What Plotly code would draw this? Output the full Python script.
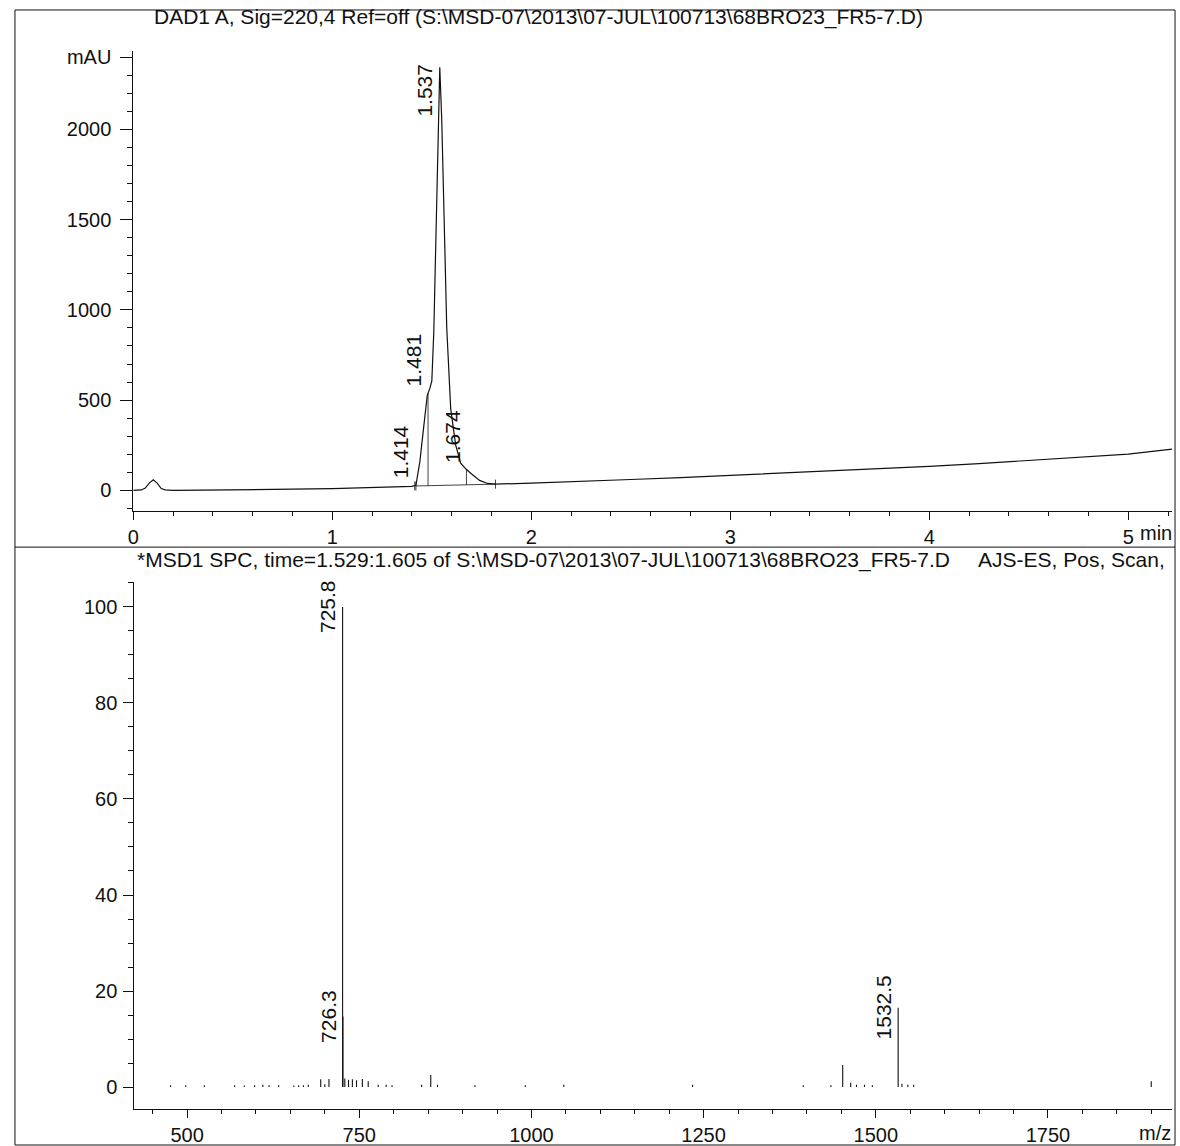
import numpy as np
import plotly.graph_objects as go

# ---------------- data: DAD chromatogram (min, mAU) ----------------
chrom_time = [0.00, 0.04, 0.06, 0.08, 0.10, 0.12, 0.14, 0.16, 0.20, 0.40, 0.60, 0.80,
              1.00, 1.20, 1.35, 1.40, 1.42, 1.44, 1.46, 1.477, 1.49, 1.50, 1.51, 1.52,
              1.53, 1.54, 1.55, 1.56, 1.565, 1.575, 1.595, 1.62, 1.645, 1.674, 1.70,
              1.74, 1.78, 1.82, 2.00, 2.25, 2.50, 2.75, 3.00, 3.25, 3.50, 3.75, 4.00,
              4.25, 4.50, 4.75, 5.00, 5.22]
chrom_mau = [0, 2, 12, 40, 58, 40, 10, 2, 0, 1, 3, 6,
             9, 14, 20, 22, 28, 160, 360, 525, 565, 605, 880, 1430,
             2000, 2345, 2050, 1600, 1420, 900, 450, 250, 150, 115, 90,
             55, 38, 34, 40, 48, 60, 70, 82, 93, 105, 118, 133,
             148, 165, 182, 200, 228]

chrom_peak_times = [1.414, 1.481, 1.537, 1.674]
chrom_peak_labels = ["1.414", "1.481", "1.537", "1.674"]
drop_line_times = [1.481, 1.674]
event_tick_times = [1.414, 1.42, 1.82]
integ_base_time = [1.42, 1.82]
integ_base_mau = [24, 34]

chrom_xticks = [0, 1, 2, 3, 4, 5]
chrom_yticks = [0, 500, 1000, 1500, 2000, 2400]
chrom_yticktext = ["0", "500", "1000", "1500", "2000", "mAU"]

# ---------------- data: MS spectrum (m/z, relative abundance) ----------------
ms_mz = [476, 498, 525, 569, 583, 598, 610, 619, 633, 655, 662, 669, 676,
         694, 700, 706, 725.8, 726.3, 729, 734.4, 740, 746, 754.5, 763,
         777.5, 789, 797.6, 840.6, 853.8, 863.6, 918, 991, 1047, 1234,
         1394.7, 1434.9, 1452, 1463.6, 1472, 1483.6, 1495, 1532.5,
         1538, 1546.6, 1555, 1900]
ms_int = [0.4, 0.4, 0.4, 0.4, 0.3, 0.4, 0.5, 0.4, 0.4, 0.3, 0.4, 0.4, 0.5,
          1.6, 0.6, 1.7, 100, 14.7, 1.8, 1.5, 1.6, 1.4, 1.7, 1.2,
          0.5, 0.5, 0.4, 0.5, 2.5, 0.5, 0.4, 0.4, 0.5, 0.5,
          0.4, 0.4, 4.6, 0.9, 0.5, 0.5, 0.4, 16.5,
          0.7, 0.5, 0.5, 1.2]
ms_labeled = [725.8, 726.3, 1532.5]
ms_xticks = [500, 750, 1000, 1250, 1500, 1750]
ms_yticks = [0, 20, 40, 60, 80, 100]

TOP_TITLE = r"DAD1 A, Sig=220,4 Ref=off (S:\MSD-07\2013\07-JUL\100713\68BRO23_FR5-7.D)"
BOT_TITLE = (r"*MSD1 SPC, time=1.529:1.605 of S:\MSD-07\2013\07-JUL\100713\68BRO23_FR5-7.D"
             + "\u00a0\u00a0\u00a0\u00a0 AJS-ES, Pos, Scan,")

# ---------------- figure geometry ----------------
W, H = 1180, 1146
FONT = "Liberation Sans, Arial, sans-serif"
INK = "#111111"


def px_x(p):
    return p / W


def px_y(p):
    return 1 - p / H


fig = go.Figure()

# chromatogram trace
fig.add_trace(go.Scatter(x=chrom_time, y=chrom_mau, mode="lines",
                         line=dict(color=INK, width=1.2), xaxis="x", yaxis="y",
                         hoverinfo="skip", showlegend=False))

# integration baseline
fig.add_trace(go.Scatter(x=integ_base_time, y=integ_base_mau, mode="lines",
                         line=dict(color=INK, width=0.8), xaxis="x", yaxis="y",
                         hoverinfo="skip", showlegend=False))

# drop lines from curve to integration baseline, and event ticks
dx, dy = [], []
for t in drop_line_times:
    dx += [t, t, None]
    dy += [float(np.interp(t, chrom_time, chrom_mau)),
           float(np.interp(t, integ_base_time, integ_base_mau)), None]
for t in event_tick_times:
    b = float(np.interp(t, integ_base_time, integ_base_mau))
    dx += [t, t, None]
    dy += [b - 25, b + 25, None]
fig.add_trace(go.Scatter(x=dx, y=dy, mode="lines", line=dict(color=INK, width=0.8),
                         xaxis="x", yaxis="y", hoverinfo="skip", showlegend=False))

# MS stems
sx, sy = [], []
for m, v in zip(ms_mz, ms_int):
    sx += [m, m, None]
    sy += [0, v, None]
fig.add_trace(go.Scatter(x=sx, y=sy, mode="lines", line=dict(color=INK, width=1.1),
                         xaxis="x2", yaxis="y2", hoverinfo="skip", showlegend=False))

annotations = []
lab_font = dict(family=FONT, size=21, color=INK)
top_peak = max(chrom_mau)
for t, lab in zip(chrom_peak_times, chrom_peak_labels):
    v = float(np.interp(t, chrom_time, chrom_mau))
    big = v >= 0.9 * top_peak
    annotations.append(dict(x=t, y=v, xref="x", yref="y", text=lab, showarrow=False,
                            textangle=-90, xanchor="right",
                            yanchor="middle" if big else "bottom",
                            xshift=-1, yshift=-4 if big else 5, font=lab_font))
for m in ms_labeled:
    v = ms_int[ms_mz.index(m)]
    annotations.append(dict(x=m, y=v, xref="x2", yref="y2", text=str(m), showarrow=False,
                            textangle=-90, xanchor="right", yanchor="middle",
                            xshift=-1, font=lab_font))

title_font = dict(family=FONT, size=21, color=INK)
annotations.append(dict(x=px_x(147), y=px_y(13), xref="paper", yref="paper",
                        text=TOP_TITLE, showarrow=False, xanchor="left", yanchor="middle",
                        font=title_font))
annotations.append(dict(x=px_x(130), y=px_y(558), xref="paper", yref="paper",
                        text=BOT_TITLE, showarrow=False, xanchor="left", yanchor="middle",
                        font=title_font))
annotations.append(dict(x=5, y=px_y(531), xref="x", yref="paper", text="min",
                        showarrow=False, xanchor="left", yanchor="middle", xshift=10,
                        font=dict(family=FONT, size=20, color=INK)))
annotations.append(dict(x=px_x(1173), y=px_y(1133), xref="paper", yref="paper", text="m/z",
                        showarrow=False, xanchor="right", yanchor="middle",
                        font=dict(family=FONT, size=20, color=INK)))

tick_font = dict(family=FONT, size=20, color=INK)
x_common = dict(showline=True, linecolor=INK, linewidth=1, ticks="outside",
                tickcolor=INK, tickwidth=1, ticklen=8, showgrid=False, zeroline=False,
                tickfont=tick_font)


def y_common(tlen, standoff):
    return dict(showline=True, linecolor=INK, linewidth=1, ticks="outside",
                tickcolor=INK, tickwidth=1, ticklen=tlen, showgrid=False, zeroline=False,
                tickfont=tick_font, ticklabelstandoff=standoff)


fig.update_layout(
    width=W, height=H, margin=dict(l=0, r=0, t=0, b=0),
    paper_bgcolor="white", plot_bgcolor="white", showlegend=False,
    xaxis=dict(domain=[px_x(128), px_x(1172)], anchor="y", range=[0, 5.22],
               tickmode="array", tickvals=chrom_xticks,
               ticktext=[str(v) for v in chrom_xticks],
               minor=dict(tickmode="linear", tick0=0, dtick=0.2, ticks="outside",
                          ticklen=4, tickcolor=INK), **x_common),
    yaxis=dict(domain=[px_y(509), px_y(47)], anchor="x", range=[-116, 2436],
               tickmode="array", tickvals=chrom_yticks, ticktext=chrom_yticktext,
               minor=dict(tickmode="linear", tick0=0, dtick=100, ticks="outside",
                          ticklen=5, tickcolor=INK), **y_common(12, 5)),
    xaxis2=dict(domain=[px_x(129), px_x(1172)], anchor="y2", range=[423.4, 1930.2],
                tickmode="array", tickvals=ms_xticks,
                ticktext=[str(v) for v in ms_xticks],
                minor=dict(tickmode="linear", tick0=0, dtick=50, ticks="outside",
                           ticklen=4, tickcolor=INK), **x_common),
    yaxis2=dict(domain=[px_y(1109), px_y(580)], anchor="x2", range=[-4.6, 105.2],
                tickmode="array", tickvals=ms_yticks,
                ticktext=[str(v) for v in ms_yticks],
                minor=dict(tickmode="linear", tick0=0, dtick=5, ticks="outside",
                           ticklen=5, tickcolor=INK), **y_common(10, 2)),
    annotations=annotations,
    shapes=[
        dict(type="rect", xref="paper", yref="paper", x0=px_x(9), x1=px_x(1175),
             y0=px_y(1145), y1=px_y(6), line=dict(color=INK, width=1)),
        dict(type="line", xref="paper", yref="paper", x0=px_x(9), x1=px_x(1175),
             y0=px_y(545), y1=px_y(545), line=dict(color=INK, width=1)),
    ],
)

fig.write_html("out.html", config={"displayModeBar": False},
               post_script="document.body.style.margin='0';"
                           "document.body.style.overflow='hidden';")
